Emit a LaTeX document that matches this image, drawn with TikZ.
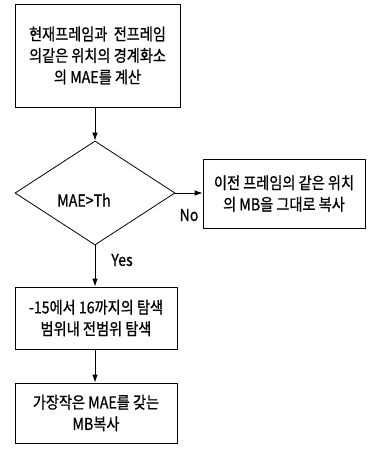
\documentclass[tikz,border=0pt]{standalone}
\usepackage{fontspec}
\setmainfont{Noto Sans CJK KR}[FakeStretch=0.86,FakeBold=0.8]
\usetikzlibrary{shapes.geometric,arrows.meta}
\begin{document}
\begin{tikzpicture}[x=1pt,y=1pt,
  font=\fontsize{16.5}{21.5}\selectfont,
  box/.style={draw,line width=0.8pt,align=center,inner sep=0pt},
  arr/.style={draw,line width=0.8pt,-{Latex[length=8pt,width=5.5pt]}}]
\useasboundingbox (0,0) rectangle (369,-454);
\node[box,minimum width=165,minimum height=103] (b1) at (97.5,-55.5)
  {현재프레임과\ \ 전프레임\\의같은 위치의 경계화소\\의 MAE를 계산};
\node[draw,line width=0.8pt,diamond,minimum width=160,minimum height=104,inner sep=0pt] (dia) at (95,-193) {};
\node (cond) at (84,-200) {MAE>Th};
\node[box,minimum width=162,minimum height=69] (b2) at (284,-193.5)
  {이전 프레임의 같은 위치\\의 MB을 그대로 복사};
\node[box,minimum width=162,minimum height=62] (b3) at (96,-318)
  {-15에서 16까지의 탐색\\범위내 전범위 탐색};
\node[box,minimum width=162,minimum height=60] (b4) at (96,-413)
  {가장작은 MAE를 갖는\\MB복사};
\draw[arr] (b1.south -| dia.north) -- (dia.north);
\draw[arr] (dia.east) -- (b2.west |- dia.east);
\draw[arr] (dia.south) -- (dia.south |- b3.north);
\draw[arr] (b3.south -| dia.south) -- (dia.south |- b4.north);
\node (no) at (189,-215) {No};
\node (yes) at (122,-260) {Yes};
\end{tikzpicture}
\end{document}
